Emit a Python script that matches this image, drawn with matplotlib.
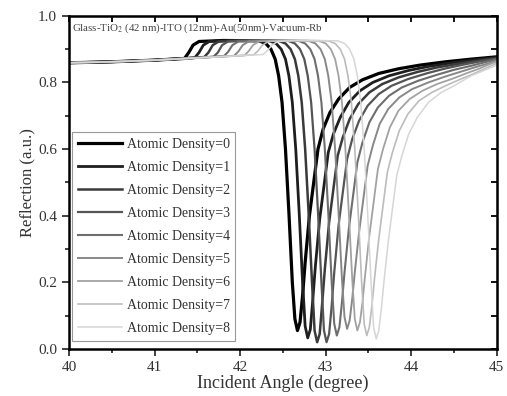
import matplotlib
matplotlib.use("Agg")
import matplotlib.pyplot as plt
from matplotlib.ticker import MultipleLocator

plt.rcParams['font.family'] = ['Liberation Serif', 'DejaVu Serif']
plt.rcParams['mathtext.fontset'] = 'stix'

# Reflectance curves, one per atomic density
angle_0 = [40.0, 40.5, 41.0, 41.35, 41.40, 41.45, 41.52, 41.8, 42.22, 42.30, 42.36, 42.41, 42.45, 42.49, 42.53,
           42.57, 42.61, 42.64, 42.67, 42.70, 42.73, 42.76, 42.81, 42.86, 42.91, 42.97, 43.05, 43.15, 43.28,
           43.43, 43.62, 43.85, 44.1, 44.4, 44.7, 45.0]
refl_0 = [0.859, 0.862, 0.867, 0.872, 0.89, 0.912, 0.923, 0.926, 0.925, 0.917, 0.90, 0.87, 0.82, 0.74, 0.60,
          0.41, 0.20, 0.09, 0.055, 0.08, 0.16, 0.26, 0.40, 0.50, 0.60, 0.66, 0.71, 0.75, 0.785,
          0.808, 0.827, 0.841, 0.852, 0.862, 0.87, 0.877]

angle_1 = [40.0, 40.5, 41.0, 41.47, 41.52, 41.57, 41.64, 41.9, 42.34, 42.42, 42.48, 42.53, 42.57, 42.61, 42.65,
           42.69, 42.73, 42.76, 42.79, 42.82, 42.85, 42.88, 42.93, 42.98, 43.03, 43.09, 43.17, 43.27, 43.40,
           43.55, 43.74, 43.97, 44.2, 44.5, 44.75, 45.0]
refl_1 = [0.859, 0.862, 0.867, 0.874, 0.89, 0.912, 0.923, 0.926, 0.925, 0.917, 0.90, 0.87, 0.82, 0.74, 0.60,
          0.41, 0.20, 0.068, 0.033, 0.058, 0.15, 0.25, 0.39, 0.49, 0.59, 0.645, 0.695, 0.74, 0.775,
          0.80, 0.82, 0.836, 0.848, 0.86, 0.868, 0.875]

angle_2 = [40.0, 40.5, 41.0, 41.58, 41.63, 41.68, 41.75, 42.0, 42.45, 42.53, 42.59, 42.64, 42.68, 42.72, 42.76,
           42.80, 42.84, 42.87, 42.90, 42.93, 42.96, 42.99, 43.04, 43.09, 43.14, 43.20, 43.28, 43.38, 43.51,
           43.66, 43.85, 44.08, 44.3, 44.55, 44.8, 45.0]
refl_2 = [0.859, 0.862, 0.867, 0.876, 0.89, 0.912, 0.923, 0.926, 0.925, 0.917, 0.90, 0.87, 0.82, 0.74, 0.60,
          0.41, 0.20, 0.055, 0.02, 0.045, 0.14, 0.24, 0.38, 0.48, 0.58, 0.635, 0.69, 0.735, 0.77,
          0.795, 0.815, 0.832, 0.845, 0.856, 0.866, 0.873]

angle_3 = [40.0, 40.5, 41.0, 41.69, 41.74, 41.79, 41.86, 42.1, 42.56, 42.64, 42.70, 42.75, 42.79, 42.83, 42.87,
           42.91, 42.95, 42.98, 43.01, 43.04, 43.07, 43.10, 43.15, 43.20, 43.25, 43.31, 43.39, 43.49, 43.62,
           43.77, 43.96, 44.19, 44.4, 44.6, 44.8, 45.0]
refl_3 = [0.859, 0.862, 0.867, 0.877, 0.89, 0.912, 0.923, 0.926, 0.925, 0.917, 0.90, 0.87, 0.82, 0.74, 0.60,
          0.41, 0.20, 0.055, 0.02, 0.045, 0.13, 0.23, 0.37, 0.47, 0.57, 0.63, 0.685, 0.73, 0.765,
          0.79, 0.81, 0.828, 0.842, 0.853, 0.863, 0.871]

angle_4 = [40.0, 40.5, 41.0, 41.81, 41.86, 41.91, 41.98, 42.2, 42.68, 42.76, 42.82, 42.87, 42.91, 42.95, 42.99,
           43.03, 43.07, 43.10, 43.13, 43.16, 43.19, 43.22, 43.27, 43.32, 43.37, 43.43, 43.51, 43.61, 43.74,
           43.89, 44.08, 44.3, 44.5, 44.7, 44.85, 45.0]
refl_4 = [0.859, 0.862, 0.867, 0.879, 0.892, 0.912, 0.923, 0.926, 0.925, 0.917, 0.90, 0.87, 0.82, 0.74, 0.60,
          0.41, 0.20, 0.075, 0.04, 0.065, 0.14, 0.23, 0.36, 0.46, 0.56, 0.62, 0.68, 0.725, 0.76,
          0.785, 0.805, 0.823, 0.838, 0.85, 0.86, 0.869]

angle_5 = [40.0, 40.5, 41.0, 41.93, 41.98, 42.03, 42.10, 42.3, 42.80, 42.88, 42.94, 42.99, 43.03, 43.07, 43.11,
           43.15, 43.19, 43.22, 43.25, 43.28, 43.31, 43.34, 43.39, 43.44, 43.49, 43.55, 43.63, 43.73, 43.86,
           44.01, 44.2, 44.4, 44.6, 44.75, 44.9, 45.0]
refl_5 = [0.859, 0.862, 0.867, 0.88, 0.893, 0.912, 0.923, 0.926, 0.925, 0.917, 0.90, 0.87, 0.82, 0.74, 0.60,
          0.41, 0.21, 0.095, 0.06, 0.085, 0.15, 0.23, 0.35, 0.45, 0.55, 0.61, 0.675, 0.72, 0.755,
          0.78, 0.80, 0.818, 0.834, 0.846, 0.857, 0.866]

angle_6 = [40.0, 40.5, 41.0, 42.05, 42.10, 42.15, 42.22, 42.45, 42.92, 43.00, 43.06, 43.11, 43.15, 43.19, 43.23,
           43.27, 43.31, 43.34, 43.37, 43.40, 43.43, 43.46, 43.51, 43.56, 43.61, 43.67, 43.75, 43.85, 43.98,
           44.13, 44.3, 44.5, 44.65, 44.8, 44.9, 45.0]
refl_6 = [0.859, 0.862, 0.867, 0.881, 0.894, 0.912, 0.923, 0.926, 0.925, 0.917, 0.90, 0.87, 0.82, 0.74, 0.60,
          0.41, 0.21, 0.09, 0.055, 0.08, 0.14, 0.22, 0.34, 0.44, 0.54, 0.60, 0.665, 0.715, 0.75,
          0.775, 0.795, 0.813, 0.828, 0.842, 0.853, 0.863]

angle_7 = [40.0, 40.5, 41.0, 42.16, 42.21, 42.26, 42.33, 42.55, 43.03, 43.11, 43.17, 43.22, 43.26, 43.30, 43.34,
           43.38, 43.42, 43.45, 43.48, 43.51, 43.54, 43.57, 43.62, 43.67, 43.72, 43.78, 43.86, 43.96, 44.09,
           44.24, 44.4, 44.55, 44.7, 44.85, 45.0]
refl_7 = [0.859, 0.862, 0.867, 0.883, 0.895, 0.912, 0.923, 0.926, 0.925, 0.917, 0.90, 0.87, 0.82, 0.74, 0.60,
          0.41, 0.20, 0.075, 0.04, 0.065, 0.13, 0.21, 0.33, 0.43, 0.53, 0.59, 0.655, 0.705, 0.745,
          0.77, 0.79, 0.807, 0.823, 0.84, 0.858]

angle_8 = [40.0, 40.5, 41.0, 42.27, 42.32, 42.37, 42.44, 42.65, 43.14, 43.22, 43.28, 43.33, 43.37, 43.41, 43.45,
           43.49, 43.53, 43.56, 43.59, 43.62, 43.65, 43.68, 43.73, 43.78, 43.83, 43.89, 43.97, 44.07, 44.2,
           44.35, 44.5, 44.7, 45.0]
refl_8 = [0.859, 0.862, 0.867, 0.884, 0.896, 0.912, 0.923, 0.926, 0.925, 0.917, 0.90, 0.87, 0.82, 0.74, 0.60,
          0.41, 0.20, 0.065, 0.03, 0.055, 0.12, 0.20, 0.32, 0.42, 0.52, 0.58, 0.645, 0.695, 0.74,
          0.77, 0.79, 0.82, 0.852]

angles = [angle_0, angle_1, angle_2, angle_3, angle_4, angle_5, angle_6, angle_7, angle_8]
refls = [refl_0, refl_1, refl_2, refl_3, refl_4, refl_5, refl_6, refl_7, refl_8]
densities = [0, 1, 2, 3, 4, 5, 6, 7, 8]

grays = ['#000000', '#1e1e1e', '#3a3a3a', '#555555', '#6e6e6e', '#888888', '#a2a2a2', '#bcbcbc', '#d6d6d6']
widths = [2.3, 2.0, 1.8, 1.6, 1.5, 1.4, 1.3, 1.2, 1.1]

fig = plt.figure(figsize=(5.07, 3.96), dpi=100)
ax = fig.add_axes([0.136, 0.119, 0.844, 0.841])

for a, r, d, c, w in zip(angles, refls, densities, grays, widths):
    ax.plot(a, r, color=c, lw=w, label='Atomic Density=%d' % d)

ax.set_xlim(40, 45)
ax.set_ylim(0, 1.0)
ax.xaxis.set_major_locator(MultipleLocator(1))
ax.xaxis.set_minor_locator(MultipleLocator(0.5))
ax.yaxis.set_major_locator(MultipleLocator(0.2))
ax.yaxis.set_minor_locator(MultipleLocator(0.1))
ax.tick_params(which='both', direction='out', top=False, right=False, labelsize=11, colors='#333333', width=1.3)
ax.tick_params(which='major', length=5)
ax.tick_params(which='minor', length=3)
for s in ax.spines.values():
    s.set_linewidth(1.8)

# inward ticks on the top and right edges
ax_top = ax.secondary_xaxis('top')
ax_top.xaxis.set_major_locator(MultipleLocator(0.5))
ax_top.tick_params(direction='in', length=4, width=1.3, labeltop=False)
ax_right = ax.secondary_yaxis('right')
ax_right.yaxis.set_major_locator(MultipleLocator(0.1))
ax_right.tick_params(direction='in', length=4, width=1.3, labelright=False)

ax.set_xlabel('Incident Angle (degree)', fontsize=13, color='#333333', labelpad=1)
ax.set_ylabel('Reflection (a.u.)', fontsize=12, color='#333333', labelpad=2)

ax.text(0.008, 0.982, 'Glass-TiO$_2$ (42 nm)-ITO (12nm)-Au(50nm)-Vacuum-Rb', transform=ax.transAxes,
        fontsize=7.8, color='#444444', va='top', ha='left')

leg = ax.legend(loc='lower left', bbox_to_anchor=(0.008, 0.025), borderaxespad=0, fontsize=10,
                labelspacing=0.72, handlelength=3.2, handletextpad=0.3, fancybox=False, framealpha=1)
leg.get_frame().set_edgecolor('#999999')
leg.get_frame().set_linewidth(0.8)
for t in leg.get_texts():
    t.set_color('#333333')

fig.savefig('out.png', dpi=100)
